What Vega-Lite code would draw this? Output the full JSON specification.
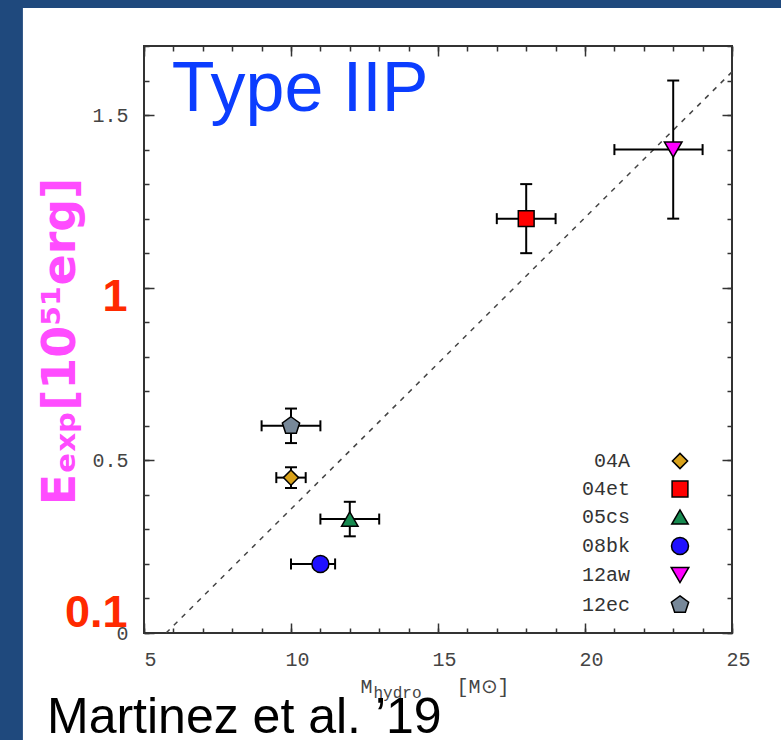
{
  "$schema": "https://vega.github.io/schema/vega-lite/v6.json",
  "width": 588,
  "height": 587,
  "autosize": {"type": "none"},
  "padding": {"left": 144, "top": 46, "right": 49, "bottom": 107},
  "background": "white",
  "datasets": {
    "sn": [
      {"name": "04A", "m": 10, "mlo": 9.5, "mhi": 10.5, "e": 0.45, "elo": 0.42, "ehi": 0.48},
      {"name": "04et", "m": 18, "mlo": 17, "mhi": 19, "e": 1.2, "elo": 1.1, "ehi": 1.3},
      {"name": "05cs", "m": 12, "mlo": 11, "mhi": 13, "e": 0.33, "elo": 0.28, "ehi": 0.38},
      {"name": "08bk", "m": 11, "mlo": 10, "mhi": 11.5, "e": 0.2, "elo": null, "ehi": null},
      {"name": "12aw", "m": 23, "mlo": 21, "mhi": 24, "e": 1.4, "elo": 1.2, "ehi": 1.6},
      {"name": "12ec", "m": 10, "mlo": 9, "mhi": 11, "e": 0.6, "elo": 0.55, "ehi": 0.65}
    ],
    "fit": [{"m": 5.75, "e": 0}, {"m": 25, "e": 1.625}],
    "one": [{}]
  },
  "resolve": {"axis": {"x": "independent", "y": "independent"}},
  "layer": [
    {
      "data": {"name": "one"},
      "mark": {"type": "rect", "color": "#1f497d"},
      "encoding": {
        "x": {"datum": -1, "type": "quantitative", "scale": {"domain": [5, 25], "nice": false, "zero": false}, "axis": null},
        "x2": {"datum": 0.881},
        "y": {"datum": -0.5, "type": "quantitative", "scale": {"domain": [0, 1.7], "nice": false}, "axis": null},
        "y2": {"datum": 2}
      }
    },
    {
      "data": {"name": "one"},
      "mark": {"type": "rect", "color": "#1f497d"},
      "encoding": {
        "x": {"datum": -1, "type": "quantitative", "scale": {"domain": [5, 25], "nice": false, "zero": false}, "axis": null},
        "x2": {"datum": 28},
        "y": {"datum": 1.81, "type": "quantitative", "scale": {"domain": [0, 1.7], "nice": false}, "axis": null},
        "y2": {"datum": 2}
      }
    },
    {
      "data": {"name": "fit"},
      "mark": {"type": "line", "strokeDash": [5, 6], "color": "#444", "strokeWidth": 1.5},
      "encoding": {
        "x": {
          "field": "m", "type": "quantitative",
          "scale": {"domain": [5, 25], "nice": false, "zero": false},
          "axis": {
            "orient": "bottom", "values": [5, 10, 15, 20, 25], "tickSize": -10,
            "labelOffset": 6, "labelPadding": 26, "format": "~g",
            "title": "M", "titleX": 216, "titleY": 59, "titleAlign": "left", "titleBaseline": "alphabetic"
          }
        },
        "y": {
          "field": "e", "type": "quantitative",
          "scale": {"domain": [0, 1.7], "nice": false},
          "axis": {
            "orient": "left", "values": [0, 0.5, 1, 1.5], "tickSize": -10, "labelPadding": 26, "format": "~g",
            "labelExpr": "datum.value == 1 ? '' : datum.label",
            "title": "Eₑₓₚ[10⁵¹erg]", "titleFont": "DejaVu Sans", "titleFontWeight": "bold", "titleFontSize": 46,
            "titleColor": "#ff4cff", "titleAngle": 270, "titleX": -70, "titleY": 295,
            "titleAlign": "center", "titleBaseline": "alphabetic"
          }
        }
      }
    },
    {
      "data": {"name": "sn"},
      "mark": {"type": "rule", "color": "black", "strokeWidth": 2},
      "encoding": {
        "x": {
          "field": "mlo", "type": "quantitative",
          "scale": {"domain": [5, 25], "nice": false, "zero": false},
          "axis": {
            "orient": "bottom", "values": [5, 6, 7, 8, 9, 10, 11, 12, 13, 14, 15, 16, 17, 18, 19, 20, 21, 22, 23, 24, 25],
            "tickSize": -5, "labels": false,
            "title": "hydro", "titleX": 229, "titleY": 64, "titleAlign": "left", "titleBaseline": "alphabetic", "titleFontSize": 16
          }
        },
        "x2": {"field": "mhi"},
        "y": {
          "field": "e", "type": "quantitative",
          "scale": {"domain": [0, 1.7], "nice": false},
          "axis": {
            "orient": "left", "values": [0, 0.1, 0.2, 0.3, 0.4, 0.5, 0.6, 0.7, 0.8, 0.9, 1, 1.1, 1.2, 1.3, 1.4, 1.5, 1.6, 1.7],
            "tickSize": -5, "labels": false, "title": null
          }
        }
      }
    },
    {
      "data": {"name": "sn"},
      "mark": {"type": "rule", "color": "black", "strokeWidth": 2},
      "encoding": {
        "x": {
          "field": "m", "type": "quantitative",
          "scale": {"domain": [5, 25], "nice": false, "zero": false},
          "axis": {
            "orient": "top", "values": [5, 6, 7, 8, 9, 10, 11, 12, 13, 14, 15, 16, 17, 18, 19, 20, 21, 22, 23, 24, 25],
            "tickSize": -5, "labels": false,
            "title": "[M⊙]", "titleX": 312, "titleY": 646, "titleAlign": "left", "titleBaseline": "alphabetic"
          }
        },
        "y": {
          "field": "elo", "type": "quantitative",
          "scale": {"domain": [0, 1.7], "nice": false},
          "axis": {
            "orient": "right", "values": [0, 0.1, 0.2, 0.3, 0.4, 0.5, 0.6, 0.7, 0.8, 0.9, 1, 1.1, 1.2, 1.3, 1.4, 1.5, 1.6, 1.7],
            "tickSize": -5, "labels": false, "title": null
          }
        },
        "y2": {"field": "ehi"}
      }
    },
    {
      "data": {"name": "sn"},
      "transform": [{"fold": ["mlo", "mhi"], "as": ["k", "mv"]}],
      "mark": {"type": "tick", "orient": "vertical", "size": 11, "thickness": 2, "color": "black", "opacity": 1},
      "encoding": {
        "x": {
          "field": "mv", "type": "quantitative",
          "scale": {"domain": [5, 25], "nice": false, "zero": false},
          "axis": {"orient": "top", "values": [5, 10, 15, 20, 25], "tickSize": -10, "labels": false, "title": null}
        },
        "y": {
          "field": "e", "type": "quantitative",
          "scale": {"domain": [0, 1.7], "nice": false},
          "axis": {"orient": "right", "values": [0, 0.5, 1, 1.5], "tickSize": -10, "labels": false, "title": null}
        }
      }
    },
    {
      "data": {"name": "sn"},
      "transform": [{"fold": ["elo", "ehi"], "as": ["k", "ev"]}],
      "mark": {"type": "tick", "orient": "horizontal", "size": 12, "thickness": 2, "color": "black", "opacity": 1},
      "encoding": {
        "x": {
          "field": "m", "type": "quantitative",
          "scale": {"domain": [5, 25], "nice": false, "zero": false},
          "axis": null
        },
        "y": {
          "field": "ev", "type": "quantitative",
          "scale": {"domain": [0, 1.7], "nice": false},
          "axis": {
            "orient": "left", "values": [0, 1], "ticks": false, "zindex": 1,
            "labelExpr": "datum.value == 0 ? '0.1' : '1'",
            "labelFont": "Liberation Sans", "labelFontWeight": "bold", "labelFontSize": 45, "labelColor": "#ff2a00",
            "labelPadding": 17, "labelBaseline": "alphabetic",
            "labelOffset": {"condition": {"test": "datum.value == 0", "value": -7}, "value": 23},
            "title": null
          }
        }
      }
    },
    {
      "data": {"name": "sn"},
      "mark": {"type": "point", "filled": true, "stroke": "black", "strokeWidth": 1.5, "opacity": 1},
      "encoding": {
        "x": {"field": "m", "type": "quantitative", "scale": {"domain": [5, 25], "nice": false, "zero": false}, "axis": null},
        "y": {"field": "e", "type": "quantitative", "scale": {"domain": [0, 1.7], "nice": false}, "axis": null},
        "fill": {
          "field": "name", "type": "nominal",
          "scale": {"domain": ["04A", "04et", "05cs", "08bk", "12aw", "12ec"], "range": ["#d9a21b", "#ff0000", "#178a50", "#2010ff", "#ff00ff", "#778899"]},
          "legend": {"title": null, "encode": {"symbols": {"update": {"stroke": {"value": "black"}, "strokeWidth": {"value": 1.5}}}}}
        },
        "shape": {
          "field": "name", "type": "nominal",
          "scale": {"domain": ["04A", "04et", "05cs", "08bk", "12aw", "12ec"], "range": ["diamond", "square", "triangle-up", "circle", "triangle-down", "M0,-1L0.951,-0.309L0.588,0.809L-0.588,0.809L-0.951,-0.309Z"]},
          "legend": {"title": null, "encode": {"symbols": {"update": {"stroke": {"value": "black"}, "strokeWidth": {"value": 1.5}}}}}
        },
        "size": {
          "field": "name", "type": "nominal",
          "scale": {"domain": ["04A", "04et", "05cs", "08bk", "12aw", "12ec"], "range": [230, 330, 324, 340, 324, 358]},
          "legend": {"title": null, "encode": {"symbols": {"update": {"stroke": {"value": "black"}, "strokeWidth": {"value": 1.5}}}}}
        }
      }
    },
    {
      "data": {"name": "one"},
      "mark": {"type": "text", "text": "Type IIP", "font": "Liberation Sans", "fontSize": 70, "color": "#0b3dff", "align": "left", "baseline": "alphabetic"},
      "encoding": {
        "x": {"datum": 5.94, "type": "quantitative", "scale": {"domain": [5, 25], "nice": false, "zero": false}, "axis": null},
        "y": {"datum": 1.512, "type": "quantitative", "scale": {"domain": [0, 1.7], "nice": false}, "axis": null}
      }
    },
    {
      "data": {"name": "one"},
      "mark": {"type": "text", "text": "Martinez et al. ’19", "font": "Liberation Sans", "fontSize": 50, "color": "black", "align": "left", "baseline": "alphabetic"},
      "encoding": {
        "x": {"datum": 1.7, "type": "quantitative", "scale": {"domain": [5, 25], "nice": false, "zero": false}, "axis": null},
        "y": {"datum": -0.29, "type": "quantitative", "scale": {"domain": [0, 1.7], "nice": false}, "axis": null}
      }
    }
  ],
  "config": {
    "view": {"stroke": "#333", "strokeWidth": 2},
    "axis": {
      "grid": false, "domain": false, "tickColor": "#333", "tickWidth": 1.5,
      "labelFont": "Liberation Mono", "labelFontSize": 20, "labelColor": "#444", "labelFlush": false,
      "titleFont": "Liberation Mono", "titleFontWeight": "normal", "titleColor": "#444", "titleFontSize": 20
    },
    "legend": {
      "orient": "none", "legendX": 526, "legendY": 405, "padding": 0,
      "labelFont": "Liberation Mono", "labelFontSize": 20, "labelColor": "#333",
      "labelAlign": "right", "labelOffset": -60, "rowPadding": 6,
      "symbolStrokeColor": "black", "symbolStrokeWidth": 1.5, "symbolOpacity": 1
    }
  }
}
